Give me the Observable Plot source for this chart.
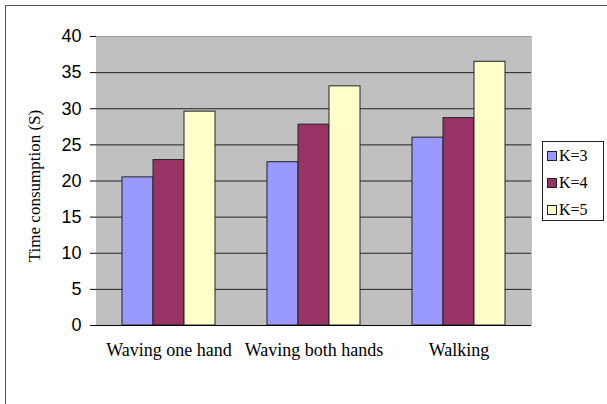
<!DOCTYPE html>
<html>
<head>
<meta charset="utf-8">
<script src="https://cdn.jsdelivr.net/npm/d3@7"></script>
<script src="https://cdn.jsdelivr.net/npm/@observablehq/plot@0.6"></script>
<style>
  html, body { margin: 0; padding: 0; background: #fff; overflow: hidden; width: 607px; height: 404px; }
  #wrap { position: relative; width: 607px; height: 404px; }
  #outer { position: absolute; left: 5px; top: 5px; width: 700px; height: 500px; border: 1.5px solid #555; box-sizing: border-box; }
  #chart { position: absolute; left: 0; top: 0; }
  #ytitle { position: absolute; left: 35px; top: 186px; transform: translate(-50%, -50%) rotate(-90deg);
            font-family: "Liberation Serif", serif; font-size: 17px; white-space: nowrap; color: #000; }
  #legend { position: absolute; left: 542px; top: 141px; width: 62px; height: 80px; box-sizing: border-box;
            border: 1px solid #222; background: #fff; font-family: "Liberation Serif", serif; font-size: 16px; }
  .item { position: absolute; left: 4px; display: flex; align-items: center; height: 16px; }
  .sw { width: 8px; height: 8px; border: 1px solid #222; margin-right: 2px; }
</style>
</head>
<body>
<div id="wrap">
  <div id="outer"></div>
  <div id="chart"></div>
  <div id="ytitle"></div>
  <div id="legend"></div>
</div>
<script>
const groups = ["Waving one hand", "Waving both hands", "Walking"];
const series = ["K=3", "K=4", "K=5"];
const colors = ["#9999ff", "#993366", "#ffffcc"];
const k3 = [20.5, 22.6, 26.0];
const k4 = [22.9, 27.8, 28.7];
const k5 = [29.6, 33.1, 36.5];
const yTicks = [0, 5, 10, 15, 20, 25, 30, 35, 40];
const yTitle = "Time consumption (S)";

const seriesValues = [k3, k4, k5];
const data = [];
groups.forEach((g, gi) => series.forEach((s, si) => data.push({group: g, k: s, value: seriesValues[si][gi]})));

// decorations per facet: left tick on each group, y-axis line on first, right border & tick on last
const deco = Plot.dot(groups, {
  fx: d => d,
  render: (index, scales, values, dim) => {
    const g = d3.create("svg:g");
    const g0 = groups[index[0]];
    const x0 = dim.marginLeft, x1 = dim.width - dim.marginRight;
    const yb = dim.height - dim.marginBottom, yt = dim.marginTop;
    g.append("line").attr("x1", x0).attr("x2", x0).attr("y1", yb).attr("y2", yb + 5).attr("stroke", "#000");
    if (g0 === groups[0]) {
      g.append("line").attr("x1", x0).attr("x2", x0).attr("y1", yt).attr("y2", yb).attr("stroke", "#000");
    }
    if (g0 === groups[groups.length - 1]) {
      g.append("line").attr("x1", x1).attr("x2", x1).attr("y1", yt).attr("y2", yb).attr("stroke", "#999");
      g.append("line").attr("x1", x1).attr("x2", x1).attr("y1", yb).attr("y2", yb + 5).attr("stroke", "#000");
    }
    return g.node();
  }
});

const chart = Plot.plot({
  width: 540,
  height: 370,
  marginLeft: 95,
  marginRight: 8,
  marginTop: 36,
  marginBottom: 45,
  style: {background: "transparent", overflow: "visible"},
  fx: {domain: groups, padding: 0, label: null},
  x: {domain: series, paddingInner: 0, paddingOuter: 0.78, axis: null},
  y: {domain: [0, 40], axis: null},
  color: {domain: series, range: colors},
  marks: [
    Plot.frame({fill: "#c0c0c0", stroke: "none", inset: -0.5, shapeRendering: "crispEdges"}),
    Plot.gridY(yTicks.filter(v => v > 0 && v < 40), {stroke: "#222", strokeOpacity: 1, strokeWidth: 1}),
    Plot.ruleY([40], {stroke: "#999", strokeWidth: 1}),
    Plot.barY(data, {fx: "group", x: "k", y: "value", fill: "k", stroke: "#222", strokeWidth: 1}),
    Plot.ruleY([0], {stroke: "#000", strokeWidth: 1}),
    Plot.axisY(yTicks, {tickSize: 6, tickPadding: 9, fontFamily: "Liberation Sans, Arial, sans-serif", fontSize: 18, label: null, stroke: "#000", color: "#000"}),
    Plot.axisFx({anchor: "bottom", tickSize: 0, tickPadding: 18, fontFamily: "Liberation Serif, serif", fontSize: 18, label: null, color: "#000"}),
    deco
  ]
});
document.getElementById("chart").appendChild(chart);
document.getElementById("ytitle").textContent = yTitle;

const legend = document.getElementById("legend");
series.forEach((s, i) => {
  const it = document.createElement("div");
  it.className = "item";
  it.style.top = (6 + i * 27) + "px";
  const sw = document.createElement("div");
  sw.className = "sw";
  sw.style.background = colors[i];
  const t = document.createElement("span");
  t.textContent = s;
  it.appendChild(sw); it.appendChild(t);
  legend.appendChild(it);
});
</script>
</body>
</html>
